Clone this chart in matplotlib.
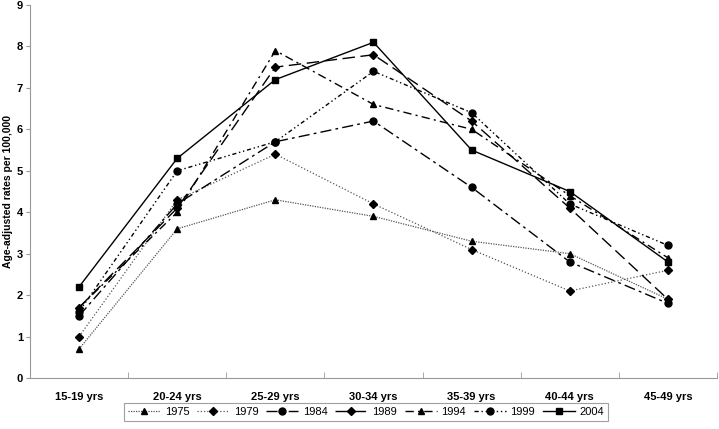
import matplotlib
matplotlib.use("Agg")
import matplotlib.pyplot as plt
from matplotlib.ticker import FixedLocator

plt.rcParams['font.family'] = ['Liberation Sans', 'DejaVu Sans']

categories = ["15-19 yrs", "20-24 yrs", "25-29 yrs", "30-34 yrs", "35-39 yrs", "40-44 yrs", "45-49 yrs"]
years = ["1975", "1979", "1984", "1989", "1994", "1999", "2004"]
r1975 = [0.7, 3.6, 4.3, 3.9, 3.3, 3.0, 1.9]
r1979 = [1.0, 4.3, 5.4, 4.2, 3.1, 2.1, 2.6]
r1984 = [1.5, 4.2, 5.7, 6.2, 4.6, 2.8, 1.8]
r1989 = [1.7, 4.1, 7.5, 7.8, 6.2, 4.1, 1.9]
r1994 = [1.7, 4.0, 7.9, 6.6, 6.0, 4.4, 2.9]
r1999 = [1.6, 5.0, 5.7, 7.4, 6.4, 4.2, 3.2]
r2004 = [2.2, 5.3, 7.2, 8.1, 5.5, 4.5, 2.8]
series = [r1975, r1979, r1984, r1989, r1994, r1999, r2004]

styles = [
    dict(marker='^', ls=(0, (1, 1)), color='#555555', lw=0.9),
    dict(marker='D', ls=(0, (1, 1.6)), color='#555555', lw=0.9, ms=4),
    dict(marker='o', ls=(0, (8, 3, 2, 3)), color='black', lw=1.0),
    dict(marker='D', ls=(0, (9, 4)), color='black', lw=1.0, ms=4),
    dict(marker='^', ls=(0, (6, 3, 1.5, 3)), color='black', lw=1.0),
    dict(marker='o', ls=(0, (3, 2, 1, 2, 1, 2)), color='black', lw=1.0),
    dict(marker='s', ls='-', color='black', lw=1.0),
]

fig = plt.figure(figsize=(7.19, 4.29), dpi=100)
ax = fig.add_axes([30/719, 1 - 378/429, 687/719, 373/429])
x = list(range(len(categories)))
for yr, vals, st in zip(years, series, styles):
    st = dict(st)
    ms = st.pop('ms', 5)
    ax.plot(x, vals, label=yr, markersize=ms, markerfacecolor='black',
            markeredgecolor='black', **st)

ax.set_xlim(-0.5, 6.5)
ax.set_ylim(0, 9)
ax.set_yticks(range(0, 10))
ax.set_xticks(x)
ax.set_xticklabels(categories, fontsize=8, fontweight='bold')
ax.tick_params(axis='x', which='major', length=0, pad=10)
ax.xaxis.set_minor_locator(FixedLocator([i + 0.5 for i in range(-1, 7)]))
ax.tick_params(axis='x', which='minor', length=4, direction='in', color='#999999')
ax.tick_params(axis='y', length=3, direction='out', color='#999999', labelsize=8, pad=2)
for lab in ax.get_yticklabels():
    lab.set_fontweight('bold')
ax.set_ylabel("Age-adjusted rates per 100,000", fontsize=7.5, fontweight='bold', va='center')
ax.yaxis.set_label_coords(-22/687, 0.5)
for s in ['top', 'right']:
    ax.spines[s].set_visible(False)
for s in ['left', 'bottom']:
    ax.spines[s].set_color('#999999')
    ax.spines[s].set_linewidth(0.8)

leg = fig.legend(loc='center', bbox_to_anchor=(366/719, 1 - 412/429), ncol=7,
                 fontsize=8, frameon=True, fancybox=False, handlelength=2.9,
                 handletextpad=0.4, columnspacing=0.7, borderpad=0.4)
leg.get_frame().set_edgecolor('#888888')
leg.get_frame().set_linewidth(0.8)

fig.savefig("out.png", dpi=100)
